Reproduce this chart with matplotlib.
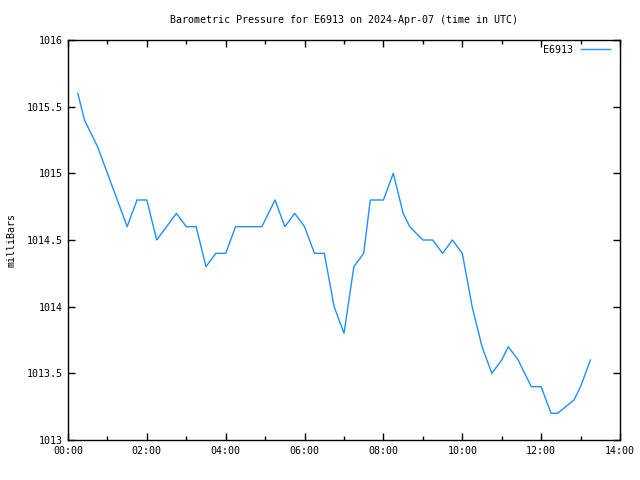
import matplotlib
matplotlib.use('Agg')
import matplotlib.pyplot as plt
from matplotlib.ticker import MultipleLocator, FuncFormatter

times = ['00:15', '00:25', '00:45', '01:00', '01:30', '01:45', '02:00', '02:15',
         '02:45', '03:00', '03:15', '03:30', '03:45', '04:00', '04:15', '04:55',
         '05:15', '05:30', '05:45', '06:00', '06:15', '06:30', '06:45', '07:00',
         '07:15', '07:30', '07:40', '08:00', '08:15', '08:30', '08:40', '09:00',
         '09:15', '09:30', '09:45', '10:00', '10:15', '10:30', '10:45', '11:00',
         '11:10', '11:25', '11:45', '12:00', '12:15', '12:25', '12:50', '13:00',
         '13:15']
pressure = [1015.6, 1015.4, 1015.2, 1015.0, 1014.6, 1014.8, 1014.8, 1014.5,
            1014.7, 1014.6, 1014.6, 1014.3, 1014.4, 1014.4, 1014.6, 1014.6,
            1014.8, 1014.6, 1014.7, 1014.6, 1014.4, 1014.4, 1014.0, 1013.8,
            1014.3, 1014.4, 1014.8, 1014.8, 1015.0, 1014.7, 1014.6, 1014.5,
            1014.5, 1014.4, 1014.5, 1014.4, 1014.0, 1013.7, 1013.5, 1013.6,
            1013.7, 1013.6, 1013.4, 1013.4, 1013.2, 1013.2, 1013.3, 1013.4,
            1013.6]
station = 'E6913'

hours = [int(t[:2]) + int(t[3:]) / 60 for t in times]

plt.rcParams['font.family'] = 'DejaVu Sans Mono'
plt.rcParams['font.size'] = 7.2

fig = plt.figure(figsize=(6.4, 4.8), dpi=100)
ax = fig.add_axes([68 / 640, 1 - 440 / 480, 552 / 640, 400 / 480])
ax.plot(hours, pressure, color='#1e90ff', lw=1, label=station)

ax.set_xlim(0, 14)
ax.set_ylim(1013, 1016)
ax.xaxis.set_major_locator(MultipleLocator(2))
ax.xaxis.set_minor_locator(MultipleLocator(1))
ax.xaxis.set_major_formatter(FuncFormatter(lambda v, p: '%02d:00' % int(round(v))))
ax.yaxis.set_major_locator(MultipleLocator(0.5))
ax.yaxis.set_major_formatter(FuncFormatter(lambda v, p: '%g' % v))
ax.tick_params(which='both', direction='in', top=True, right=True, width=1)
ax.tick_params(which='major', length=5, pad=4)
ax.tick_params(which='minor', length=3)
for s in ax.spines.values():
    s.set_linewidth(1)

ax.set_ylabel('milliBars', labelpad=7)
ax.set_title('Barometric Pressure for E6913 on 2024-Apr-07 (time in UTC)',
             fontsize=7.2, pad=12)
ax.legend(loc='upper right', bbox_to_anchor=(0.991, 1.0), frameon=False,
          markerfirst=False, handlelength=2.9, handletextpad=0.8,
          borderaxespad=0.1)

fig.savefig('out.png', dpi=100)
